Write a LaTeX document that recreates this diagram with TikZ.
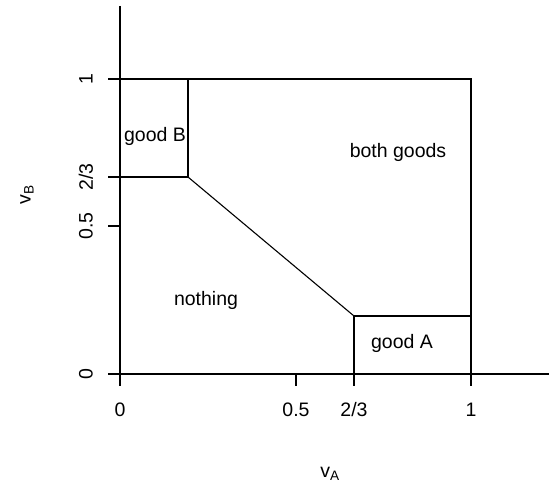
\documentclass[tikz,border=0pt]{standalone}
\usepackage{fontspec}
\setmainfont{Liberation Sans}
\begin{document}
\begin{tikzpicture}[x=1pt,y=-1pt,line width=1.1pt,
  lbl/.style={font=\fontsize{19.5}{22}\selectfont, inner sep=0pt},
  axlbl/.style={font=\fontsize{19.5}{22}\selectfont, inner sep=0pt}]
\useasboundingbox (0,0) rectangle (549,489);
% axes
\coordinate (o) at (120,374);
\coordinate (ytop) at (120,6);
\coordinate (ybot) at (120,386);
\coordinate (xl) at (108,374);
\coordinate (xr) at (549,374);
\draw (ytop) -- (ybot);
\draw (xl) -- (xr);
% ticks
\draw (296,374) -- (296,386);
\draw (354,374) -- (354,386);
\draw (471,374) -- (471,386);
\draw (108,79) -- (120,79);
\draw (108,177) -- (120,177);
\draw (108,226) -- (120,226);
% regions
\coordinate (tl) at (120,79);
\coordinate (tr) at (471,79);
\coordinate (br) at (471,374);
\coordinate (b1) at (188,79);
\coordinate (b2) at (188,177);
\coordinate (b3) at (120,177);
\coordinate (a1) at (354,374);
\coordinate (a2) at (354,316);
\coordinate (a3) at (471,316);
\draw (tl) -- (tr) -- (br);
\draw (b1) -- (b2) -- (b3);
\draw (b2) -- (a2);
\draw (a1) -- (a2) -- (a3);
% region labels
\node[lbl] (gb) at (155,136) {good B};
\node[lbl] (bg) at (398,152) {both goods};
\node[lbl] (no) at (206,300) {nothing};
\node[lbl] (ga) at (402,343) {good A};
% x tick labels
\node[axlbl] (x0) at (120,410) {0};
\node[axlbl] (x05) at (296,410) {0.5};
\node[axlbl] (x23) at (354,410) {2/3};
\node[axlbl] (x1) at (471,410) {1};
% y tick labels
\node[axlbl,rotate=90] (y0) at (86,374) {0};
\node[axlbl,rotate=90] (y05) at (86,226) {0.5};
\node[axlbl,rotate=90] (y23) at (86,177) {2/3};
\node[axlbl,rotate=90] (y1) at (86,79) {1};
% axis titles
\node[axlbl] (xt) at (330,474) {v\textsubscript{A}};
\node[axlbl,rotate=90] (yt) at (27,195) {v\textsubscript{B}};
\end{tikzpicture}
\end{document}
